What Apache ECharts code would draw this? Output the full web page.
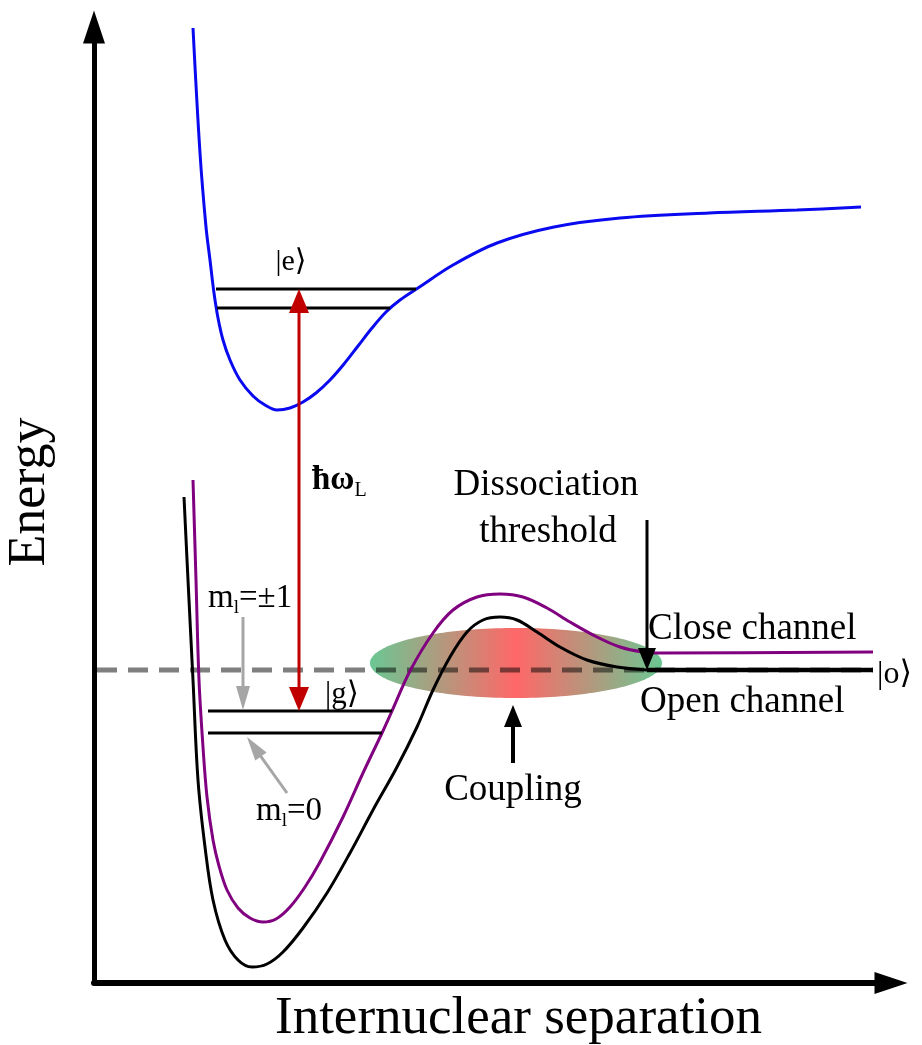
<!DOCTYPE html>
<html>
<head>
<meta charset="utf-8">
<script src="https://cdn.jsdelivr.net/npm/echarts@6/dist/echarts.min.js"></script>
<style>
  html, body { margin: 0; padding: 0; background: #fff; }
  #chart { width: 922px; height: 1045px; }
</style>
</head>
<body>
<div id="chart"></div>
<script>
// Plot units: [separation, energy]
const separationRange = [0, 797];
const energyRange = [0, 956];

// Excited-state potential |e⟩
const excitedCurve = [[99,955],[106,830],[112,756],[116,723],[120,690],[124,665],[129,643],[136,623],[146,603],[159,587],[171,578],[183,573],[196,575],[209,581],[222,590],[236,603],[250,619],[264,637],[278,655],[292,671],[306,683],[324,695],[359,718],[403,740],[460,756],[526,765],[615,770],[703,773],[767,776]];
// Closed channel potential (m_l = ±1)
const closedCurve = [[99,503],[102,403],[105,303],[109,236],[113,186],[119,143],[125,117],[133,93],[144,75],[156,65],[169,61],[182,64],[196,76],[211,96],[226,121],[249,166],[269,210],[288,250],[298,272],[316,312],[339,350],[359,373],[383,386],[406,389],[429,386],[453,375],[476,361],[503,346],[526,336],[549,331],[566,330],[779,331]];
// Open channel potential (m_l = 0)
const openCurve = [[90,486],[94,403],[99,303],[104,203],[111,136],[119,83],[131,43],[144,23],[158,16],[173,19],[189,31],[209,55],[233,90],[256,130],[279,173],[303,216],[323,256],[339,293],[356,326],[373,351],[389,363],[406,366],[423,363],[443,351],[466,336],[493,323],[523,316],[553,313]];
const openAsymptote = [[553,313],[779,313]];

// Dissociation threshold energy and the span of its dashed guide
const thresholdEnergy = 313;
const thresholdSpan = [3, 779];

// Bound levels: [xStart, energy, xEnd]
const excitedLevels = [[122,694,322],[123,675,296]];
const groundLevels = [[114,272,298],[114,250,288]];

// Coupling region: [centre separation, centre energy, half-width, half-height]
const couplingRegion = [[422,320,146,35]];

// Arrows: [x0, y0, x1, y1] (tip at x1, y1)
const arrowPaths = [
  [205,694,205,272],   // laser ħω_L
  [553,463,553,313],   // dissociation threshold
  [419,220,419,278],   // coupling
  [149,366,149,273],   // m_l = ±1
  [193,190,153,246]    // m_l = 0
];

// Text anchors in plot units
const labelAnchors = [[452,498],[454,451],[419,193],[554,354],[546,281],[783,308],[197,721],[231,288],[218,503],[114,385],[162,172]];

const FONT = "'Liberation Serif','Times New Roman','DejaVu Serif',serif";

const arrowStyles = [
  { color: '#c00000', width: 3, headW: 20, headL: 24, both: true },
  { color: '#000000', width: 3, headW: 18, headL: 22 },
  { color: '#000000', width: 4, headW: 18, headL: 22 },
  { color: '#a6a6a6', width: 3, headW: 14, headL: 24 },
  { color: '#a6a6a6', width: 3, headW: 14, headL: 24 }
];

const sub = (size, pad) => ({ fontFamily: FONT, fontSize: size, lineHeight: size, verticalAlign: 'top', padding: [pad, 0, 0, 0], fill: '#000' });
const main = (size, weight) => ({ fontFamily: FONT, fontSize: size, lineHeight: size, verticalAlign: 'top', fontWeight: weight || 'normal', fill: '#000' });

const labelSpecs = [
  { text: 'Dissociation', size: 37, align: 'center' },
  { text: 'threshold', size: 37, align: 'center' },
  { text: 'Coupling', size: 37, align: 'center' },
  { text: 'Close channel', size: 37, align: 'left' },
  { text: 'Open channel', size: 37, align: 'left' },
  { text: '|o\u27E9', size: 32, align: 'left' },
  { text: '|e\u27E9', size: 30, align: 'center' },
  { text: '|g\u27E9', size: 31, align: 'left' },
  { text: '{h|ħω}{s|L}', align: 'left', rich: { h: main(33, 'bold'), s: sub(20, 17) } },
  { text: '{m|m}{s|l}{m|=±1}', align: 'left', rich: { m: main(33), s: sub(19, 17) } },
  { text: '{m|m}{s|l}{m|=0}', align: 'left', rich: { m: main(33), s: sub(19, 17) } }
];

const chart = echarts.init(document.getElementById('chart'), null, { renderer: 'canvas' });

const arrowSymbol = 'path://M0,0L10,30L-10,30Z';

function levelSeries(levels, z) {
  return levels.map(l => ({
    type: 'line', z: z, silent: true, showSymbol: false, symbol: 'none',
    data: [[l[0], l[1]], [l[2], l[1]]],
    lineStyle: { color: '#000', width: 3 }
  }));
}

function curveSeries(data, color, width, z) {
  return {
    type: 'line', z: z, silent: true, showSymbol: false, symbol: 'none',
    smooth: 0.35, data: data,
    lineStyle: { color: color, width: width }
  };
}

function renderRegion(params, api) {
  const c = api.coord([api.value(0), api.value(1)]);
  const s = api.size([api.value(2), api.value(3)]);
  const pts = [];
  for (let i = 0; i < 180; i++) {
    const t = i / 180 * Math.PI * 2;
    pts.push([c[0] + s[0] * Math.cos(t), c[1] + s[1] * Math.sin(t)]);
  }
  return {
    type: 'polygon',
    shape: { points: pts },
    style: {
      fill: new echarts.graphic.LinearGradient(0, 0, 1, 0, [
        { offset: 0, color: 'rgba(70,185,120,0.8)' },
        { offset: 0.5, color: 'rgba(255,70,70,0.82)' },
        { offset: 1, color: 'rgba(70,185,120,0.8)' }
      ])
    }
  };
}

function renderArrow(params, api) {
  const st = arrowStyles[params.dataIndex];
  const a = api.coord([api.value(0), api.value(1)]);
  const b = api.coord([api.value(2), api.value(3)]);
  const dx = b[0] - a[0], dy = b[1] - a[1];
  const len = Math.hypot(dx, dy);
  const ux = dx / len, uy = dy / len, nx = -uy, ny = ux;
  const head = (tip, sx, sy) => {
    const bx = tip[0] - sx * st.headL, by = tip[1] - sy * st.headL;
    return {
      type: 'polygon',
      shape: { points: [[tip[0], tip[1]], [bx + nx * st.headW / 2, by + ny * st.headW / 2], [bx - nx * st.headW / 2, by - ny * st.headW / 2]] },
      style: { fill: st.color }
    };
  };
  const k = st.headL * 0.9;
  const start = st.both ? [a[0] + ux * k, a[1] + uy * k] : a;
  const end = [b[0] - ux * k, b[1] - uy * k];
  const children = [
    { type: 'line', shape: { x1: start[0], y1: start[1], x2: end[0], y2: end[1] }, style: { stroke: st.color, lineWidth: st.width } },
    head(b, ux, uy)
  ];
  if (st.both) children.push(head(a, -ux, -uy));
  return { type: 'group', children: children };
}

function renderLabel(params, api) {
  const spec = labelSpecs[params.dataIndex];
  const p = api.coord([api.value(0), api.value(1)]);
  const style = {
    text: spec.text, fill: '#000', align: spec.align, verticalAlign: 'middle',
    fontFamily: FONT, fontSize: spec.size || 30
  };
  if (spec.rich) style.rich = spec.rich;
  return { type: 'text', x: p[0], y: p[1], style: style };
}

const option = {
  animation: false,
  backgroundColor: '#fff',
  grid: { left: 94, right: 31, top: 27, bottom: 62, containLabel: false, outerBoundsMode: 'none' },
  xAxis: {
    type: 'value', min: separationRange[0], max: separationRange[1],
    axisLine: { show: true, onZero: false, symbol: ['none', arrowSymbol], symbolSize: [22, 33], lineStyle: { color: '#000', width: 6 } },
    axisTick: { show: false }, axisLabel: { show: false }, splitLine: { show: false },
    name: 'Internuclear separation', nameLocation: 'middle', nameGap: 10,
    nameTextStyle: { fontFamily: FONT, fontSize: 53, color: '#000', padding: [0, 0, 0, 52] }
  },
  yAxis: {
    type: 'value', min: energyRange[0], max: energyRange[1],
    axisLine: { show: true, onZero: false, symbol: ['none', arrowSymbol], symbolSize: [22, 33], lineStyle: { color: '#000', width: 5 } },
    axisTick: { show: false }, axisLabel: { show: false }, splitLine: { show: false },
    name: 'Energy', nameLocation: 'middle', nameRotate: 90, nameGap: 38,
    nameTextStyle: { fontFamily: FONT, fontSize: 52, color: '#000', padding: [0, 0, 0, 26] }
  },
  series: [
    {
      type: 'custom', z: 1, silent: true, coordinateSystem: 'cartesian2d',
      data: couplingRegion, encode: { x: 0, y: 1 }, renderItem: renderRegion
    },
    {
      type: 'line', z: 2, silent: true, showSymbol: false, symbol: 'none',
      data: [[thresholdSpan[0], thresholdEnergy], [thresholdSpan[1], thresholdEnergy]],
      lineStyle: { color: 'rgba(0,0,0,0.5)', width: 5, type: [20, 11] }
    },
    curveSeries(excitedCurve, '#0a0af0', 3, 3),
    curveSeries(closedCurve, '#800080', 3, 3),
    curveSeries(openCurve, '#000000', 3, 3),
    { type: 'line', z: 3, silent: true, showSymbol: false, symbol: 'none', data: openAsymptote, lineStyle: { color: '#000', width: 4.5 } },
    ...levelSeries(excitedLevels, 4),
    ...levelSeries(groundLevels, 4),
    {
      type: 'custom', z: 5, silent: true, coordinateSystem: 'cartesian2d',
      data: arrowPaths, encode: { x: [0, 2], y: [1, 3] }, renderItem: renderArrow
    },
    {
      type: 'custom', z: 6, silent: true, coordinateSystem: 'cartesian2d',
      data: labelAnchors, encode: { x: 0, y: 1 }, renderItem: renderLabel
    }
  ]
};

chart.setOption(option);
</script>
</body>
</html>
